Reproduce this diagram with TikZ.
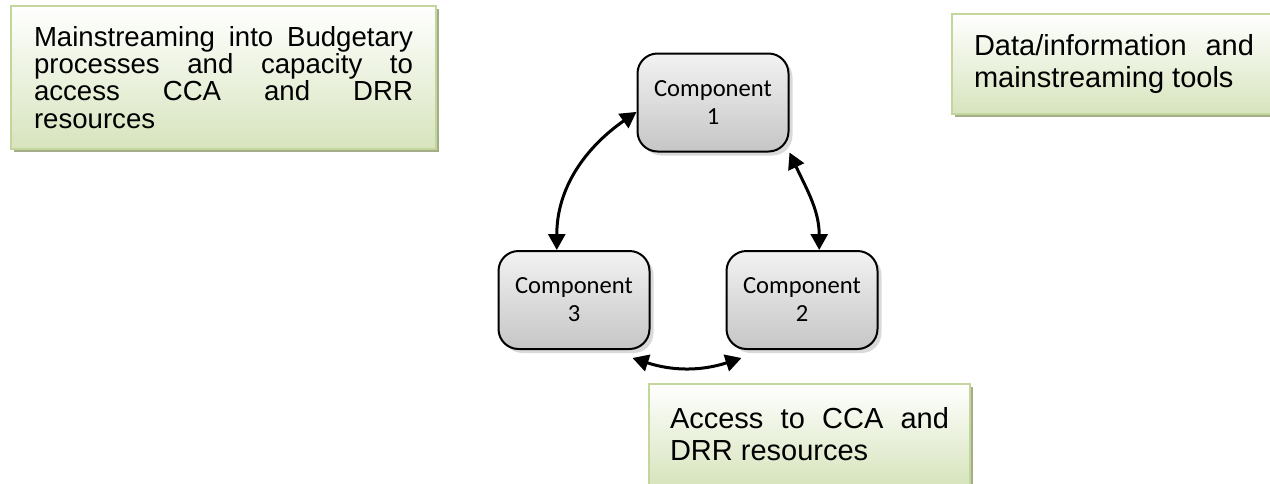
\documentclass[tikz,border=0pt]{standalone}
\usepackage{fontspec}
\setmainfont{Liberation Sans}
\newfontfamily\califont{Carlito}
\usepackage{tikz}
\usetikzlibrary{arrows.meta,positioning,shadows}
\definecolor{notegreen}{HTML}{C3D69B}
\definecolor{notefill}{HTML}{D7E4BD}
\definecolor{noteshade}{HTML}{A3AE88}
\tikzset{
  note/.style={draw=notegreen, line width=1pt, top color=white, bottom color=notefill,
    align=justify, anchor=north west, inner xsep=11.5pt,
    font=\fontsize{14.5}{16}\selectfont,
    drop shadow={fill=noteshade, opacity=1, shadow xshift=1.5pt, shadow yshift=-1.5pt}},
  comp/.style={draw, line width=1pt, rounded corners=10pt, top color=gray!10, bottom color=gray!45,
    minimum width=75.5pt, minimum height=49pt, align=center,
    font=\califont\fontsize{12.3}{14}\selectfont,
    drop shadow={opacity=0.3, shadow xshift=2pt, shadow yshift=-2pt}},
  fl/.style={{Triangle[length=8pt,width=8.5pt]}-{Triangle[length=8pt,width=8.5pt]}, line width=1.5pt},
}
\hyphenpenalty=10000
\begin{document}
\begin{tikzpicture}[x=0.5pt,y=0.5pt]
\useasboundingbox (0,0) rectangle (1270,-483);
\clip (0,0) rectangle (1270,-483);
% notes
\node[note, text width=189.5pt, minimum height=71.5pt, font=\fontsize{13.8}{13.6}\selectfont] (budget) at (10,-5)
  {Mainstreaming into Budgetary\linebreak processes and capacity to\linebreak access CCA and DRR\linebreak resources};
\node[note, text width=140pt, inner xsep=11pt, minimum height=50pt] (tools) at (951,-13)
  {Data/information and\linebreak mainstreaming tools};
\node[note, text width=139.5pt, inner xsep=10.5pt, minimum height=50.5pt] (access) at (648,-383)
  {Access to CCA and\linebreak DRR resources};
% components
\node[comp] (c1) at (713,-102.5) {Component\\1};
\node[comp] (c3) at (574,-300) {Component\\3};
\node[comp, right=37.5pt of c3] (c2) {Component\\2};
\draw[fl] (c3.109) to[out=90, in=215] (c1.187);
\draw[fl] (c1.south east) to[out=-65, in=90] (c2.71);
\draw[fl] ([shift={(-9pt,-4pt)}]c3.south east) to[out=-18, in=-162] ([shift={(8pt,-4pt)}]c2.south west);
\end{tikzpicture}
\end{document}
